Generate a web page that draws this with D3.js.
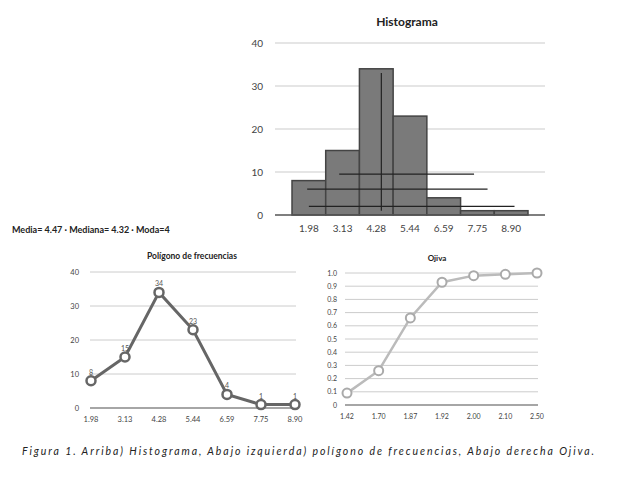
<!DOCTYPE html>
<html><head><meta charset="utf-8">
<script src="https://cdn.jsdelivr.net/npm/d3@7"></script>
<style>body{margin:0;background:#fff}text{font-family:Lato,"Open Sans",sans-serif}</style>
</head><body><svg id="c" width="623" height="480"></svg>
<script>
const categories=["1.98","3.13","4.28","5.44","6.59","7.75","8.90"];
const freq=[8,15,34,23,4,1,1];
const ogiveCats=["1.42","1.70","1.87","1.92","2.00","2.10","2.50"];
const ogiveVals=[0.09,0.26,0.66,0.93,0.98,0.99,1.0];
// overlay lines on histogram in data units: [x0 band index, x1 band index, y]
const hLines=[[1.4,5.4,9.5],[0.45,5.8,6],[0.5,6.6,2]];
const vLine={x:2.65,y0:1,y1:33};

const svg=d3.select("#c");
const hx=d3.scaleBand().domain(categories).range([292,528]).padding(0);
const hy=d3.scaleLinear().domain([0,40]).range([215,43]);
const g=svg.append("g");
g.selectAll(".gl").data([10,20,30,40]).join("line").attr("x1",275).attr("x2",545).attr("y1",d=>hy(d)).attr("y2",d=>hy(d)).attr("stroke","#ccc").attr("stroke-width",1.2);
g.selectAll(".b").data(freq).join("rect").attr("x",(d,i)=>hx(categories[i])).attr("width",hx.bandwidth()).attr("y",d=>hy(d)).attr("height",d=>hy(0)-hy(d)).attr("fill","#7a7a7a").attr("stroke","#444").attr("stroke-width",1.5);
g.append("line").attr("x1",275).attr("x2",545).attr("y1",hy(0)).attr("y2",hy(0)).attr("stroke","#555").attr("stroke-width",1.5);
const bx=v=>hx.range()[0]+v*hx.bandwidth();
g.selectAll(".hl").data(hLines).join("line").attr("x1",d=>bx(d[0])).attr("x2",d=>bx(d[1])).attr("y1",d=>hy(d[2])).attr("y2",d=>hy(d[2])).attr("stroke","#222").attr("stroke-width",1.2);
g.append("line").attr("x1",bx(vLine.x)).attr("x2",bx(vLine.x)).attr("y1",hy(vLine.y0)).attr("y2",hy(vLine.y1)).attr("stroke","#222").attr("stroke-width",1.2);
g.selectAll(".yl").data([0,10,20,30,40]).join("text").attr("x",263).attr("y",d=>hy(d)+3.5).attr("text-anchor","end").attr("font-size",10).attr("fill","#444").text(d=>d);
g.selectAll(".xl").data(categories).join("text").attr("x",d=>hx(d)+hx.bandwidth()/2).attr("y",232).attr("text-anchor","middle").attr("font-size",10).attr("fill","#444").text(d=>d);
g.append("text").attr("x",407).attr("y",26).attr("text-anchor","middle").attr("font-size",12).attr("font-weight","bold").attr("fill","#222").text("Histograma");
svg.append("text").attr("x",12).attr("y",233).attr("font-size",9).attr("font-weight","bold").attr("fill","#222").text("Media= 4.47 · Mediana= 4.32 · Moda=4");

const px=d3.scalePoint().domain(categories).range([91,295]);
const py=d3.scaleLinear().domain([0,40]).range([408,272]);
const p=svg.append("g");
p.selectAll("line.g").data([10,20,30,40]).join("line").attr("x1",90).attr("x2",296).attr("y1",d=>py(d)).attr("y2",d=>py(d)).attr("stroke","#ccc");
p.append("line").attr("x1",90).attr("x2",296).attr("y1",py(0)).attr("y2",py(0)).attr("stroke","#888").attr("stroke-width",1.5);
p.selectAll(".yl").data([0,10,20,30,40]).join("text").attr("x",79).attr("y",d=>py(d)+3).attr("text-anchor","end").attr("font-size",7.5).attr("fill","#444").text(d=>d);
p.selectAll(".xl").data(categories).join("text").attr("x",d=>px(d)).attr("y",422).attr("text-anchor","middle").attr("font-size",7.5).attr("fill","#444").text(d=>d);
p.append("path").datum(freq).attr("d",d3.line().x((d,i)=>px(categories[i])).y(d=>py(d))).attr("fill","none").attr("stroke","#666").attr("stroke-width",3);
p.selectAll("circle").data(freq).join("circle").attr("cx",(d,i)=>px(categories[i])).attr("cy",d=>py(d)).attr("r",4.5).attr("fill","#fff").attr("stroke","#666").attr("stroke-width",2.5);
p.selectAll(".vl").data(freq).join("text").attr("x",(d,i)=>px(categories[i])).attr("y",d=>py(d)-6).attr("text-anchor","middle").attr("font-size",7).attr("fill","#555").text(d=>d);
p.append("text").attr("x",192).attr("y",259).attr("text-anchor","middle").attr("font-size",8.5).attr("font-weight","bold").attr("fill","#222").text("Polígono de frecuencias");

const ox=d3.scalePoint().domain(ogiveCats).range([347,537]);
const oy=d3.scaleLinear().domain([0,1]).range([405,273]);
const o=svg.append("g");
const oticks=d3.range(1,11).map(d=>d/10);
o.selectAll("line.g").data(oticks).join("line").attr("x1",345).attr("x2",538).attr("y1",d=>oy(d)).attr("y2",d=>oy(d)).attr("stroke","#ccc");
o.append("line").attr("x1",345).attr("x2",538).attr("y1",oy(0)).attr("y2",oy(0)).attr("stroke","#888").attr("stroke-width",1.5);
o.selectAll(".yl").data([0,...oticks]).join("text").attr("x",337).attr("y",d=>oy(d)+2.5).attr("text-anchor","end").attr("font-size",7).attr("fill","#444").text(d=>d===0?"0":d.toFixed(1));
o.selectAll(".xl").data(ogiveCats).join("text").attr("x",d=>ox(d)).attr("y",419).attr("text-anchor","middle").attr("font-size",7).attr("fill","#444").text(d=>d);
o.append("path").datum(ogiveVals).attr("d",d3.line().x((d,i)=>ox(ogiveCats[i])).y(d=>oy(d))).attr("fill","none").attr("stroke","#bbb").attr("stroke-width",2.5);
o.selectAll("circle").data(ogiveVals).join("circle").attr("cx",(d,i)=>ox(ogiveCats[i])).attr("cy",d=>oy(d)).attr("r",4.5).attr("fill","#fff").attr("stroke","#aaa").attr("stroke-width",2);
o.append("text").attr("x",437).attr("y",261).attr("text-anchor","middle").attr("font-size",8).attr("font-weight","bold").attr("fill","#222").text("Ojiva");

svg.append("text").attr("x",22).attr("y",455).attr("font-size",10.5).attr("font-style","italic").attr("fill","#222").attr("textLength",572).attr("lengthAdjust","spacing").text("Figura 1. Arriba) Histograma, Abajo izquierda) polígono de frecuencias, Abajo derecha Ojiva.");
</script></body></html>
